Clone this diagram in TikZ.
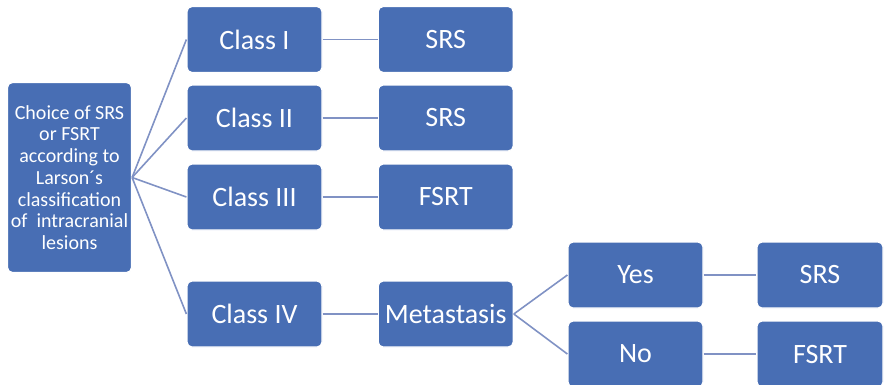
\documentclass[tikz,border=0pt]{standalone}
\usepackage{fontspec}
\setmainfont{Carlito}
\usetikzlibrary{positioning}
\definecolor{boxblue}{RGB}{72,110,180}
\definecolor{linkblue}{RGB}{128,146,196}

\begin{document}
\begin{tikzpicture}[x=1pt, y=-1pt,
    box/.style={rectangle, rounded corners=5pt, draw=white, line width=1.2pt, fill=boxblue,
        text=white, minimum width=135pt, minimum height=66pt, inner sep=0pt,
        font=\fontsize{28}{34}\selectfont},
    link/.style={draw=linkblue, line width=1.6pt}]
        \useasboundingbox (0,0) rectangle (888,384);

        \node (choice) [box, minimum width=124pt, minimum height=190pt, align=center,
            font=\fontsize{20}{21.7}\selectfont] at (69.5,177.5)
            {Choice of SRS\\or FSRT\\according to\\Larson´s\\classification\\of~ intracranial\\lesions};

        \node (c1) [box] at (254.5,39.5) {Class I};
        \node (c2) [box] at (254.5,118) {Class II};
        \node (c3) [box] at (254.5,197) {Class III};
        \node (c4) [box] at (254.5,314) {Class IV};

        \node (r1) [box, right=55pt of c1] {SRS};
        \node (r2) [box, right=55pt of c2] {SRS};
        \node (r3) [box, right=55pt of c3] {FSRT};
        \node (meta) [box, right=55pt of c4] {Metastasis};

        \node (yes) [box] at (635.5,275) {Yes};
        \node (no) [box] at (635.5,354) {No};
        \node (yesrs) [box, minimum width=126pt] at (820,275) {SRS};
        \node (nofsrt) [box, minimum width=126pt] at (820,354) {FSRT};

        % root to the four classes
        \foreach \c in {c1,c2,c3,c4}
            \draw [link] (choice.east) -- (\c.west);

        % class to treatment
        \draw [link] (c1) -- (r1);
        \draw [link] (c2) -- (r2);
        \draw [link] (c3) -- (r3);
        \draw [link] (c4) -- (meta);

        % metastasis branch
        \draw [link] (meta.east) -- (yes.west);
        \draw [link] (meta.east) -- (no.west);
        \draw [link] (yes) -- (yesrs);
        \draw [link] (no) -- (nofsrt);
    \end{tikzpicture}
\end{document}
